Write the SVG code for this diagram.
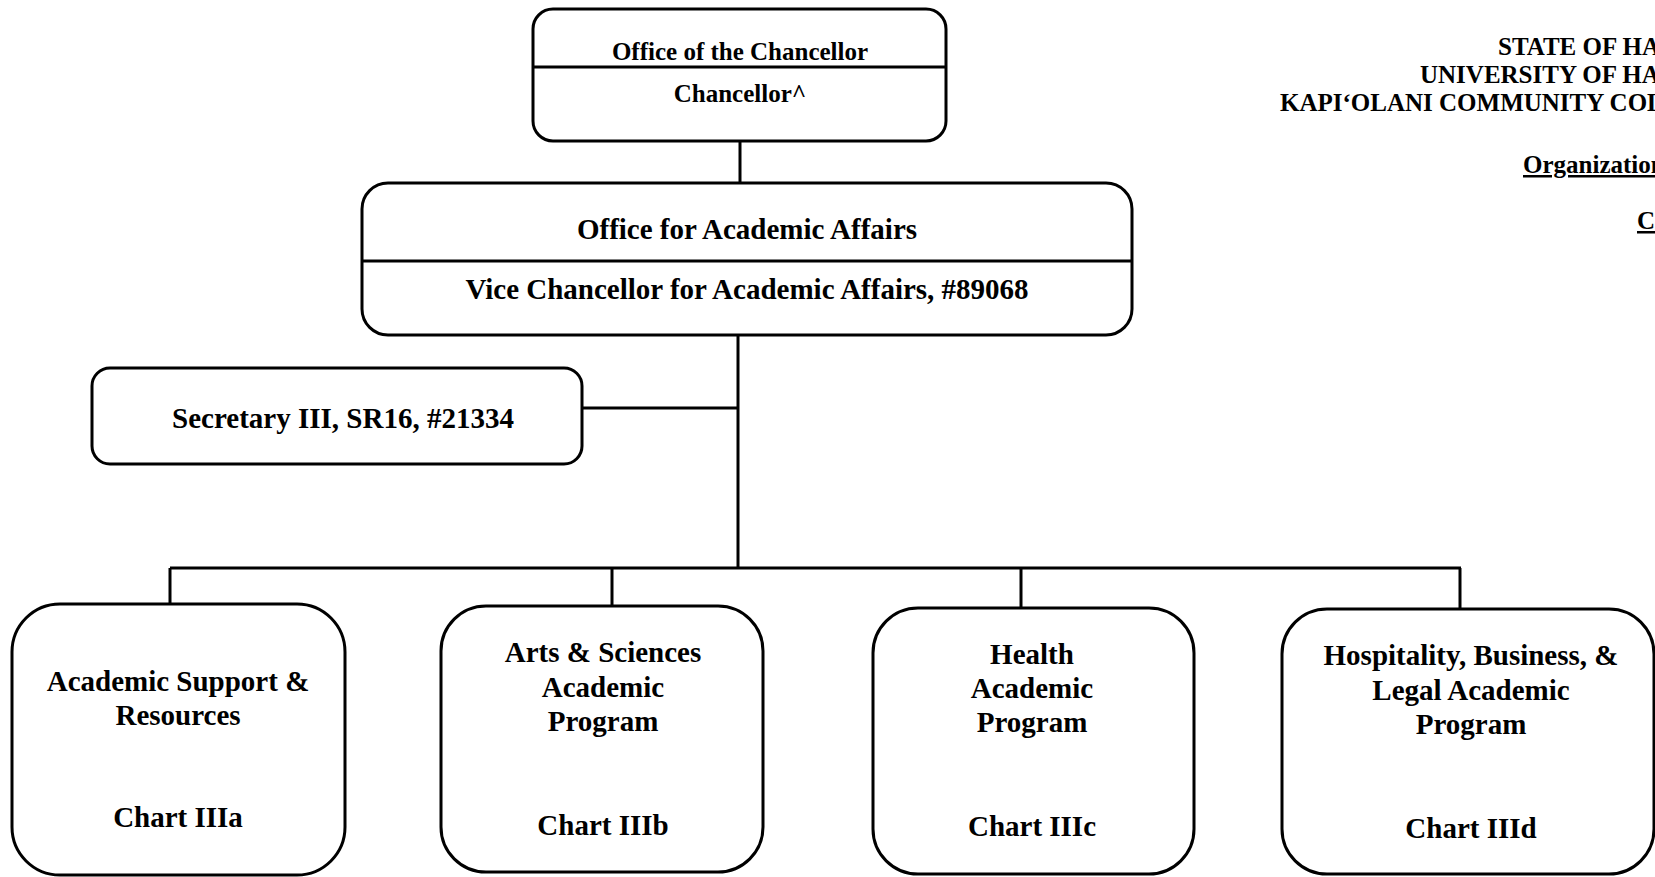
<svg xmlns="http://www.w3.org/2000/svg" width="1655" height="877" viewBox="0 0 1655 877">
<style>
.box{fill:#fff;stroke:#000;stroke-width:3}
.ln{stroke:#000;stroke-width:3;fill:none}
text{font-family:"Liberation Serif","Times New Roman",serif;font-weight:bold;fill:#000}
.c{text-anchor:middle}
.s25{font-size:25px}
.s29{font-size:29px}
.h{font-size:25px}
</style>
<rect width="1655" height="877" fill="#fff"/>
<g id="header">
<text class="h" x="1498" y="55">STATE OF HA</text>
<text class="h" x="1420" y="83">UNIVERSITY OF HA</text>
<text class="h" x="1280" y="111">KAPI‘OLANI COMMUNITY COL</text>
<text class="h" x="1523" y="173" text-decoration="underline">Organization</text>
<text class="h" x="1637" y="229" text-decoration="underline">C</text>
</g>
<g id="connectors">
<line class="ln" x1="740" y1="141" x2="740" y2="183"/>
<line class="ln" x1="738" y1="335" x2="738" y2="569"/>
<line class="ln" x1="582" y1="408" x2="738" y2="408"/>
<line class="ln" x1="170" y1="568" x2="1461" y2="568"/>
<line class="ln" x1="170" y1="568" x2="170" y2="604"/>
<line class="ln" x1="612" y1="568" x2="612" y2="606"/>
<line class="ln" x1="1021" y1="568" x2="1021" y2="608"/>
<line class="ln" x1="1460" y1="568" x2="1460" y2="609"/>
</g>
<g id="chancellor">
<rect class="box" x="533" y="9" width="413" height="132" rx="20"/>
<line class="ln" x1="533" y1="67" x2="946" y2="67"/>
<text class="c s25" x="740" y="60">Office of the Chancellor</text>
<text class="c s25" x="740" y="102">Chancellor^</text>
</g>
<g id="academic-affairs">
<rect class="box" x="362" y="183" width="770" height="152" rx="26"/>
<line class="ln" x1="362" y1="261" x2="1132" y2="261"/>
<text class="c s29" x="747" y="239">Office for Academic Affairs</text>
<text class="c s29" x="747" y="299">Vice Chancellor for Academic Affairs, #89068</text>
</g>
<g id="secretary">
<rect class="box" x="92" y="368" width="490" height="96" rx="18"/>
<text class="c s29" x="343" y="428">Secretary III, SR16, #21334</text>
</g>
<g id="chart-iiia">
<rect class="box" x="12" y="604" width="333" height="271" rx="48"/>
<text class="c s29" x="178" y="691">Academic Support &amp;</text>
<text class="c s29" x="178" y="725">Resources</text>
<text class="c s29" x="178" y="827">Chart IIIa</text>
</g>
<g id="chart-iiib">
<rect class="box" x="441" y="606" width="322" height="266" rx="45"/>
<text class="c s29" x="603" y="662">Arts &amp; Sciences</text>
<text class="c s29" x="603" y="697">Academic</text>
<text class="c s29" x="603" y="731">Program</text>
<text class="c s29" x="603" y="835">Chart IIIb</text>
</g>
<g id="chart-iiic">
<rect class="box" x="873" y="608" width="321" height="266" rx="45"/>
<text class="c s29" x="1032" y="664">Health</text>
<text class="c s29" x="1032" y="698">Academic</text>
<text class="c s29" x="1032" y="732">Program</text>
<text class="c s29" x="1032" y="836">Chart IIIc</text>
</g>
<g id="chart-iiid">
<rect class="box" x="1282" y="609" width="372" height="265" rx="45"/>
<text class="c s29" x="1471" y="665">Hospitality, Business, &amp;</text>
<text class="c s29" x="1471" y="700">Legal Academic</text>
<text class="c s29" x="1471" y="734">Program</text>
<text class="c s29" x="1471" y="838">Chart IIId</text>
</g>
</svg>
